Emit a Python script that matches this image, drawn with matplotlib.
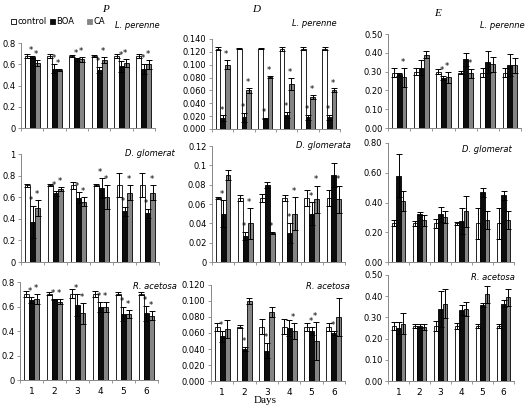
import numpy as np
import matplotlib
matplotlib.use("Agg")
import matplotlib.pyplot as plt
from matplotlib.patches import Rectangle

# days on the x axis
days = ["1", "2", "3", "4", "5", "6"]
series = ["control", "BOA", "CA"]

# P, L. perenne
p_lp_mean = [[0.68, 0.68, 0.68, 0.68, 0.68, 0.68],
             [0.67, 0.56, 0.645, 0.545, 0.58, 0.555],
             [0.61, 0.545, 0.645, 0.64, 0.61, 0.60]]
p_lp_err = [[0.02, 0.02, 0.01, 0.01, 0.02, 0.02],
            [0.01, 0.04, 0.01, 0.03, 0.05, 0.05],
            [0.03, 0.01, 0.02, 0.03, 0.04, 0.04]]
p_lp_star = [[0] * 6, [1] * 6, [1] * 6]

# D, L. perenne
d_lp_mean = [[0.125, 0.125, 0.125, 0.125, 0.125, 0.125],
             [0.017, 0.018, 0.016, 0.022, 0.018, 0.018],
             [0.100, 0.060, 0.081, 0.070, 0.050, 0.060]]
d_lp_err = [[0.002, 0.001, 0.001, 0.003, 0.002, 0.002],
            [0.004, 0.007, 0.0005, 0.005, 0.004, 0.004],
            [0.007, 0.004, 0.001, 0.009, 0.003, 0.003]]
d_lp_star = [[0] * 6, [1] * 6, [1] * 6]

# E, L. perenne
e_lp_mean = [[0.295, 0.30, 0.30, 0.295, 0.295, 0.295],
             [0.285, 0.32, 0.265, 0.365, 0.35, 0.335],
             [0.27, 0.39, 0.27, 0.29, 0.34, 0.335]]
e_lp_err = [[0.025, 0.02, 0.015, 0.01, 0.025, 0.025],
            [0.008, 0.04, 0.01, 0.035, 0.06, 0.06],
            [0.05, 0.02, 0.03, 0.025, 0.04, 0.04]]
e_lp_star = [[0] * 6, [0, 0, 1, 0, 0, 0], [1, 0, 1, 1, 0, 0]]

# P, D. glomerata
p_dg_mean = [[0.71, 0.71, 0.71, 0.71, 0.71, 0.71],
             [0.37, 0.635, 0.595, 0.685, 0.47, 0.45],
             [0.50, 0.675, 0.56, 0.605, 0.64, 0.64]]
p_dg_err = [[0.015, 0.01, 0.035, 0.01, 0.11, 0.11],
            [0.15, 0.02, 0.05, 0.09, 0.04, 0.04],
            [0.07, 0.02, 0.04, 0.11, 0.07, 0.07]]
p_dg_star = [[0] * 6, [1] * 6, [1] * 6]

# D, D. glomerata
d_dg_mean = [[0.066, 0.066, 0.066, 0.066, 0.066, 0.066],
             [0.050, 0.027, 0.080, 0.030, 0.050, 0.090],
             [0.090, 0.040, 0.030, 0.050, 0.065, 0.065]]
d_dg_err = [[0.001, 0.003, 0.004, 0.003, 0.008, 0.008],
            [0.014, 0.004, 0.003, 0.010, 0.012, 0.012],
            [0.005, 0.016, 0.001, 0.017, 0.014, 0.014]]
d_dg_star = [[0] * 6, [1, 1, 0, 1, 1, 0], [0, 1, 1, 1, 1, 1]]

# E, D. glomerata
e_dg_mean = [[0.26, 0.26, 0.26, 0.26, 0.26, 0.26],
             [0.58, 0.325, 0.32, 0.275, 0.47, 0.45],
             [0.41, 0.28, 0.305, 0.34, 0.285, 0.285]]
e_dg_err = [[0.02, 0.015, 0.03, 0.01, 0.105, 0.105],
            [0.145, 0.01, 0.05, 0.085, 0.03, 0.03],
            [0.07, 0.035, 0.04, 0.105, 0.06, 0.06]]
e_dg_star = [[0] * 6, [0] * 6, [0] * 6]

# P, R. acetosa
p_ra_mean = [[0.705, 0.705, 0.705, 0.705, 0.705, 0.705],
             [0.655, 0.66, 0.615, 0.595, 0.54, 0.545],
             [0.66, 0.64, 0.545, 0.595, 0.54, 0.525]]
p_ra_err = [[0.025, 0.015, 0.035, 0.025, 0.015, 0.015],
            [0.025, 0.005, 0.09, 0.04, 0.06, 0.06],
            [0.04, 0.02, 0.085, 0.04, 0.035, 0.035]]
p_ra_star = [[0] * 6, [1] * 6, [1] * 6]

# D, R. acetosa
d_ra_mean = [[0.068, 0.068, 0.068, 0.068, 0.068, 0.068],
             [0.056, 0.040, 0.038, 0.066, 0.062, 0.060],
             [0.065, 0.100, 0.086, 0.063, 0.050, 0.080]]
d_ra_err = [[0.005, 0.002, 0.009, 0.009, 0.005, 0.005],
            [0.007, 0.002, 0.009, 0.010, 0.005, 0.002],
            [0.011, 0.004, 0.006, 0.010, 0.024, 0.024]]
d_ra_star = [[0] * 6, [1, 1, 1, 0, 1, 1], [0, 0, 0, 1, 1, 0]]

# E, R. acetosa
e_ra_mean = [[0.26, 0.26, 0.26, 0.26, 0.26, 0.26],
             [0.25, 0.26, 0.34, 0.335, 0.36, 0.365],
             [0.27, 0.255, 0.365, 0.34, 0.41, 0.395]]
e_ra_err = [[0.02, 0.01, 0.025, 0.015, 0.01, 0.01],
            [0.03, 0.01, 0.085, 0.025, 0.01, 0.015],
            [0.05, 0.015, 0.07, 0.035, 0.04, 0.04]]
e_ra_star = [[0] * 6, [0] * 6, [0] * 6]

colors = ["white", "#0d0d0d", "#858585"]
W, H = 529, 411
FS = 6

fig = plt.figure(figsize=(W / 100, H / 100), dpi=100)


def px_axes(x0, y0, x1, y1):
    return fig.add_axes([x0 / W, 1 - y1 / H, (x1 - x0) / W, (y1 - y0) / H])


def draw_panel(box, mean, err, star, ymax, ystep, fmt, label, label_xy, show_x):
    ax = px_axes(*box)
    x = np.arange(len(days))
    w = 0.222
    for i in range(3):
        xs = x + (i - 1) * w
        ax.bar(xs, mean[i], w, color=colors[i], edgecolor="black", linewidth=0.6, zorder=2)
        ax.errorbar(xs, mean[i], yerr=err[i], fmt="none", ecolor="black",
                    elinewidth=0.7, capsize=2.2, capthick=0.7, zorder=3)
        for j in range(len(days)):
            if star[i][j]:
                ax.text(xs[j] - 0.05, mean[i][j] + err[i][j] + ymax * 0.01, "*",
                        ha="center", va="bottom", fontsize=FS, zorder=4)
    ax.set_xlim(-0.5, len(days) - 0.5)
    ax.set_ylim(0, ymax)
    ticks = np.arange(0, ymax + ystep / 2, ystep)
    ax.set_yticks(ticks)
    ax.set_yticklabels([fmt(t) for t in ticks])
    ax.set_xticks(x)
    ax.set_xticks(np.arange(-0.5, len(days)), minor=True)
    if show_x:
        ax.set_xticklabels(days)
    else:
        ax.set_xticklabels([])
    ax.tick_params(axis="x", which="major", length=0, labelsize=FS + 0.5, pad=5)
    ax.tick_params(axis="x", which="minor", length=2.5, color="#888888", width=0.6)
    ax.tick_params(axis="y", length=2.5, color="#888888", width=0.6, labelsize=FS, pad=1.5)
    for s in ["top", "right"]:
        ax.spines[s].set_visible(False)
    for s in ["left", "bottom"]:
        ax.spines[s].set_color("#888888")
        ax.spines[s].set_linewidth(0.7)
    fig.text(label_xy[0] / W, 1 - label_xy[1] / H, label, ha="right", va="center",
             fontsize=FS, style="italic")
    return ax


gen = lambda t: "{:g}".format(round(t, 3))
f3 = lambda t: "{:.3f}".format(t)
f2 = lambda t: "{:.2f}".format(t)

draw_panel((21, 43, 155, 128), p_lp_mean, p_lp_err, p_lp_star, 0.8, 0.2, gen, "L. perenne", (160, 25), False)
draw_panel((212, 39, 340, 129), d_lp_mean, d_lp_err, d_lp_star, 0.14, 0.02, f3, "L. perenne", (337, 23), False)
draw_panel((388, 34, 521, 128), e_lp_mean, e_lp_err, e_lp_star, 0.5, 0.1, f2, "L. perenne", (525, 25), False)

draw_panel((21, 154, 159, 262), p_dg_mean, p_dg_err, p_dg_star, 1.0, 0.2, gen, "D. glomerat", (175, 154), False)
draw_panel((212, 146, 345, 262), d_dg_mean, d_dg_err, d_dg_star, 0.12, 0.02, gen, "D. glomerata", (351, 146), False)
draw_panel((388, 143, 514, 262), e_dg_mean, e_dg_err, e_dg_star, 0.8, 0.2, f2, "D. glomerat", (512, 150), False)

draw_panel((20, 282, 158, 380), p_ra_mean, p_ra_err, p_ra_star, 0.8, 0.2, gen, "R. acetosa", (177, 286), True)
draw_panel((211, 285, 345, 381), d_ra_mean, d_ra_err, d_ra_star, 0.12, 0.02, f3, "R. acetosa", (350, 286), True)
draw_panel((388, 275, 514, 381), e_ra_mean, e_ra_err, e_ra_star, 0.5, 0.1, f2, "R. acetosa", (515, 277), True)

# column titles
for t, xy in [("P", (105, 10)), ("D", (256, 10)), ("E", (438, 13))]:
    fig.text(xy[0] / W, 1 - xy[1] / H, t, ha="center", va="center",
             family="Liberation Serif", style="italic", fontsize=8)
fig.text(265 / W, 1 - 400 / H, "Days", ha="center", va="center",
         family="Liberation Serif", fontsize=8)

# legend, laid out by hand like the original (uneven spacing)
legend_x = [11, 50, 87]
for i, name in enumerate(series):
    x0 = legend_x[i]
    fig.patches.append(Rectangle((x0 / W, 1 - 24.5 / H), 5 / W, 5 / H,
                                 transform=fig.transFigure, facecolor=colors[i],
                                 edgecolor="black" if i == 0 else colors[i], linewidth=0.6))
    fig.text((x0 + 6) / W, 1 - 22 / H, name, ha="left", va="center", fontsize=FS)

fig.savefig("out.png", dpi=100)
